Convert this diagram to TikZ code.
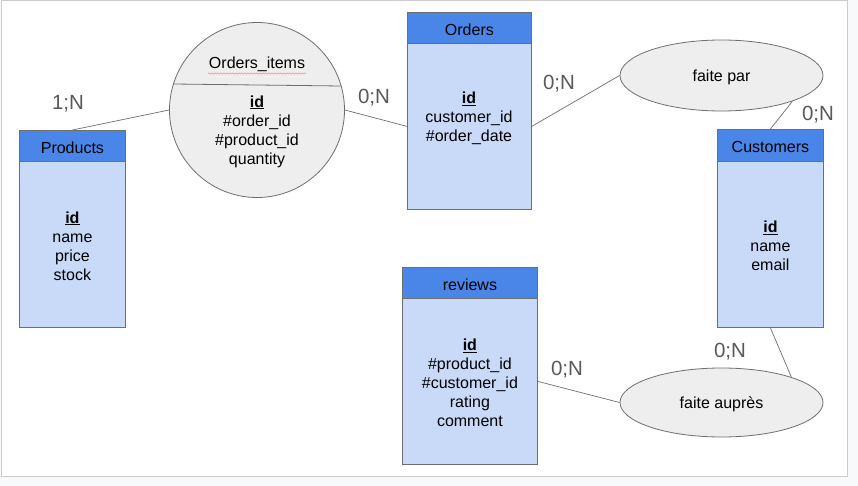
\documentclass[tikz,border=0pt]{standalone}
\usepackage{fontspec}
\setmainfont{Liberation Sans}
\usetikzlibrary{shapes.geometric,decorations.pathmorphing}
\definecolor{hdr}{HTML}{4A86E8}
\definecolor{bdy}{HTML}{C9DAF8}
\definecolor{edge}{HTML}{6E6E6E}
\definecolor{ell}{HTML}{EEEEEE}
\definecolor{outer}{HTML}{F8F9FA}
\definecolor{frame}{HTML}{CCCCCC}
\definecolor{card}{HTML}{595959}
\tikzset{
  x=1pt, y=-1pt,
  txt/.style={font=\fontsize{16}{19}\selectfont, align=center, inner sep=0pt, text=black, yshift=-1.5pt},
  hdrbox/.style={draw=edge, fill=hdr, line width=0.8pt, inner sep=0pt, anchor=north west},
  bdybox/.style={draw=edge, fill=bdy, line width=0.8pt, inner sep=0pt, anchor=north west},
  relell/.style={ellipse, draw=edge, fill=ell, line width=0.8pt, inner sep=0pt},
  link/.style={draw=edge, line width=0.7pt},
  cardlbl/.style={font=\fontsize{20.5}{24}\selectfont, text=card, inner sep=0pt}
}
\begin{document}
\begin{tikzpicture}
\useasboundingbox (0,0) rectangle (858,486);
\fill[outer] (0,0) rectangle (858,486);
\draw[frame, fill=white, line width=1pt] (1.5,0.5) rectangle (847,476);

% Products
\node[hdrbox, minimum width=106pt, minimum height=31pt] (prodH) at (19,130) {};
\node[bdybox, minimum width=106pt, minimum height=166pt] (prodB) at (19,161) {};
\node[txt] (prodT) at (prodH.center) {Products};
\node[txt] (prodA) at (prodB.center) {\underline{\textbf{id}}\\name\\price\\stock};

% Orders_items
\node[circle, draw=edge, fill=ell, line width=0.8pt, minimum size=175pt, inner sep=0pt] (items) at (257,110) {};
\draw[edge, line width=0.8pt] (173,84) -- (341,86);
\node[txt] (itemsT) at (257,63) {Orders\_items};
\draw[red!45, line width=0.5pt, decorate, decoration={snake, amplitude=0.7pt, segment length=3pt}] (208,73.5) -- (306,73.5);
\node[txt] (itemsA) at (257,130) {\underline{\textbf{id}}\\\#order\_id\\\#product\_id\\quantity};

% Orders
\node[hdrbox, minimum width=124pt, minimum height=31pt] (ordH) at (407,12) {};
\node[bdybox, minimum width=124pt, minimum height=166pt] (ordB) at (407,43) {};
\node[txt] (ordT) at (ordH.center) {Orders};
\node[txt] (ordA) at (469,117) {\underline{\textbf{id}}\\customer\_id\\\#order\_date};

% Customers
\node[hdrbox, minimum width=106pt, minimum height=32pt] (custH) at (717,129) {};
\node[bdybox, minimum width=106pt, minimum height=166pt] (custB) at (717,161) {};
\node[txt] (custT) at (custH.center) {Customers};
\node[txt] (custA) at (custB.center) {\underline{\textbf{id}}\\name\\email};

% reviews
\node[hdrbox, minimum width=135pt, minimum height=31pt] (revH) at (402,267) {};
\node[bdybox, minimum width=135pt, minimum height=166pt] (revB) at (402,298) {};
\node[txt] (revT) at (revH.center) {reviews};
\node[txt] (revA) at (revB.center) {\underline{\textbf{id}}\\\#product\_id\\\#customer\_id\\rating\\comment};

% relations
\node[relell, minimum width=203pt, minimum height=71pt] (fpar) at (721.5,75.5) {};
\node[txt] at (fpar.center) {faite par};
\node[relell, minimum width=203pt, minimum height=69pt] (faup) at (721.5,402.5) {};
\node[txt] at (faup.center) {faite auprès};

% connectors
\draw[link] (prodH.north) -- (items.west);
\draw[link] (items.east) -- (ordB.west);
\draw[link] (ordB.east) -- (fpar.west);
\draw[link] (fpar.-20) -- (custH.north);
\draw[link] (custB.south) -- (faup.20);
\draw[link] (revB.east) -- (faup.west);

% cardinalities
\node[cardlbl] (c1) at (68,104) {1;N};
\node[cardlbl] (c2) at (374,98) {0;N};
\node[cardlbl] (c3) at (559,84) {0;N};
\node[cardlbl] (c4) at (818,115) {0;N};
\node[cardlbl] (c5) at (730,352) {0;N};
\node[cardlbl] (c6) at (567,370) {0;N};
\end{tikzpicture}
\end{document}
